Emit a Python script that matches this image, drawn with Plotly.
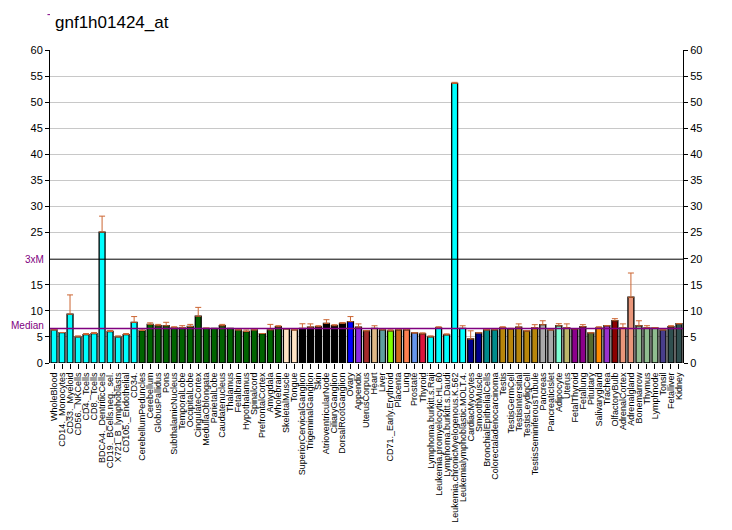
import plotly.graph_objects as go

labels = [
    "WholeBlood", "CD14._Monocytes", "CD33._Myeloid", "CD56._NKCells", "CD4._Tcells",
    "CD8._Tcells", "BDCA4._DentriticCells", "CD19._BCells.neg._sel.", "X721_B_lymphoblasts",
    "CD105._Endothelial", "CD34.", "CerebellumPeduncles", "Cerebellum", "GlobusPallidus",
    "Pons", "SubthalamicNucleus", "TemporalLobe", "OccipitalLobe", "CingulateCortex",
    "MedullaOblongata", "ParietalLobe", "Caudatenucleus", "Thalamus", "Fetalbrain",
    "Hypothalamus", "Spinalcord", "PrefrontalCortex", "Amygdala", "Wholebrain",
    "SkeletalMuscle", "Tongue", "SuperiorCervicalGanglion", "TrigeminalGanglion", "Skin",
    "AtrioventricularNode", "CiliaryGanglion", "DorsalRootGanglion", "Ovary", "Appendix",
    "UterusCorpus", "Heart", "Liver", "CD71._Early.Erythroid", "Placenta", "Lung",
    "Prostate", "Thyroid", "Lymphoma.burkitt.s.Raji", "Leukemia.promyelocytic.HL.60",
    "Lymphoma.burkitt.s.Daudi", "Leukemia.chronicMyelogenous.K.562",
    "Leukemialymphoblastic.MOLT.4.", "CardiacMyocytes", "SmoothMuscle",
    "BronchialEpithelialCells", "Colorectaladenocarcinoma", "Testis", "TestisGermCell",
    "TestisIntersitial", "TestisLeydigCell", "TestisSeminiferousTubule", "Pancreas",
    "PancreaticIslet", "Adipocyte", "Uterus", "FetalThyroid", "Fetallung", "Pituitary",
    "Salivarygland", "Trachea", "OlfactoryBulb", "AdrenalCortex", "Adrenalgland",
    "Bonemarrow", "Thymus", "Lymphnode", "Tonsil", "Fetalliver", "Kidney",
]

values = [
    6.36, 5.84, 9.35, 5.0, 5.45, 5.65, 25.1, 6.04, 5.0, 5.45, 7.8,
    6.23, 7.4, 7.14, 7.14, 6.75, 6.75, 7.0, 8.96, 6.62, 6.62, 7.14, 6.62, 6.36,
    6.04, 6.36, 5.65, 6.36, 6.95,
    6.56, 6.36, 6.62, 6.88, 6.95, 7.6, 7.14, 7.6, 7.92, 6.88, 6.17, 6.62, 6.36,
    6.17, 6.36, 6.36, 5.78, 5.58, 5.0, 6.75, 5.39, 53.6, 6.62, 4.6, 5.78, 6.36,
    6.36, 6.75, 6.56, 6.88, 6.17, 6.75, 7.34, 6.36, 7.14, 6.75, 6.56, 6.95, 5.78,
    6.75, 7.14, 8.1, 6.75, 12.6, 7.14, 6.75, 6.75, 6.36, 6.95, 7.53,
]

errors = [
    0.0, 0.0, 3.7, 0.2, 0.2, 0.2, 3.05, 0.2, 0.2, 0.2, 1.1,
    0.3, 0.3, 0.26, 0.66, 0.2, 0.4, 0.4, 1.7, 0.1, 0.0, 0.26, 0.0, 0.0,
    0.3, 0.0, 0.0, 1.04, 0.2,
    0.0, 0.0, 0.9, 0.62, 0.2, 0.7, 0.2, 0.14, 0.98, 0.62, 0.0, 0.52, 0.2,
    0.2, 0.2, 0.2, 0.0, 0.2, 0.2, 0.2, 0.2, 0.2, 0.52, 1.57, 0.0, 0.0,
    0.2, 0.2, 0.1, 0.62, 0.0, 0.6, 0.76, 0.0, 0.4, 0.75, 0.0, 0.4, 0.0,
    0.2, 0.0, 0.4, 0.75, 4.65, 0.96, 0.4, 0.0, 0.0, 0.2, 0.0,
]

colors = (
    ["#00FFFF"] * 11 + ["#006400"] * 18 + ["#FFE4C4"] * 2 + ["#000000"] * 6
    + ["#0000FF", "#8A2BE2", "#A52A2A", "#DEB887", "#5F9EA0", "#7FFF00", "#D2691E",
       "#FF7F50", "#6495ED", "#DC143C"]
    + ["#00FFFF"] * 5 + ["#00008B"] * 2 + ["#008B8B"] * 2 + ["#B8860B"] * 5
    + ["#A9A9A9"] * 2 + ["#7FFFD4", "#BDB76B"] + ["#8B008B"] * 2
    + ["#556B2F", "#FF8C00", "#9932CC", "#8B0000"] + ["#E9967A"] * 2
    + ["#8FBC8F"] * 3 + ["#483D8B"] + ["#2F4F4F"] * 2
)

median = 6.63
three_m = 19.9
y_ticks = list(range(0, 61, 5))
y_ticks_left = [t for t in y_ticks if t != 20]

x = list(range(len(labels)))

fig = go.Figure()
fig.add_trace(go.Bar(
    x=x, y=values,
    marker=dict(color=colors, line=dict(color="#000000", width=1.3)),
    width=0.74,
    error_y=dict(type="data", symmetric=False, array=errors,
                 arrayminus=[0] * len(errors), color="#CC6633", thickness=1, width=3),
    showlegend=False,
))
# invisible trace to drive right axis
fig.add_trace(go.Scatter(x=[x[0]], y=[0], yaxis="y2", mode="markers",
                         marker=dict(opacity=0), showlegend=False, hoverinfo="skip"))

font = "Liberation Sans, Arial, sans-serif"
fig.update_layout(
    width=732, height=530,
    margin=dict(l=50, r=49, t=50, b=167),
    paper_bgcolor="white", plot_bgcolor="white",
    font=dict(family=font, size=11, color="#000000"),
    title=dict(text="gnf1h01424_at", x=55 / 732, xanchor="left",
               y=1 - 22 / 530, yanchor="middle", yref="container",
               font=dict(family=font, size=17, color="#000000")),
    bargap=0.26,
    xaxis=dict(
        tickmode="array", tickvals=x, ticktext=labels, tickangle=-90,
        tickfont=dict(size=9, family=font), range=[-0.5, len(labels) - 0.5],
        showgrid=False, zeroline=False, showline=False, automargin=False,
        ticks="outside", ticklen=5, tickcolor="#000000",
    ),
    yaxis=dict(
        range=[0, 60], tickmode="array", tickvals=y_ticks_left, automargin=False,
        showgrid=True, gridcolor="#C8C8C8", gridwidth=1, zeroline=False,
        showline=True, linecolor="#000000", linewidth=1,
        ticks="outside", ticklen=4, tickcolor="#000000",
    ),
    yaxis2=dict(
        range=[0, 60], tickmode="array", tickvals=y_ticks, overlaying="y",
        side="right", showgrid=False, zeroline=False, automargin=False,
        showline=True, linecolor="#000000", linewidth=1,
        ticks="outside", ticklen=4, tickcolor="#000000",
    ),
    annotations=[
        dict(text="3xM", x=0, xref="paper", y=three_m, yref="y", xanchor="right",
             xshift=-4, showarrow=False, font=dict(size=10, color="#800080")),
        dict(text="Median", x=0, xref="paper", y=median, yref="y", xanchor="right",
             xshift=-4, yshift=3, showarrow=False, font=dict(size=10, color="#800080")),
    ],
    shapes=[
        dict(type="line", xref="paper", yref="y", x0=0, x1=1,
             y0=three_m, y1=three_m, line=dict(color="#000000", width=1)),
        dict(type="line", xref="paper", yref="y", x0=0, x1=1,
             y0=median, y1=median, line=dict(color="#800080", width=1.5)),
        dict(type="line", xref="paper", yref="paper", x0=-0.004, x1=0.0,
             y0=1.113, y1=1.113, line=dict(color="#800080", width=1)),
    ],
)

fig.write_html("out.html")
